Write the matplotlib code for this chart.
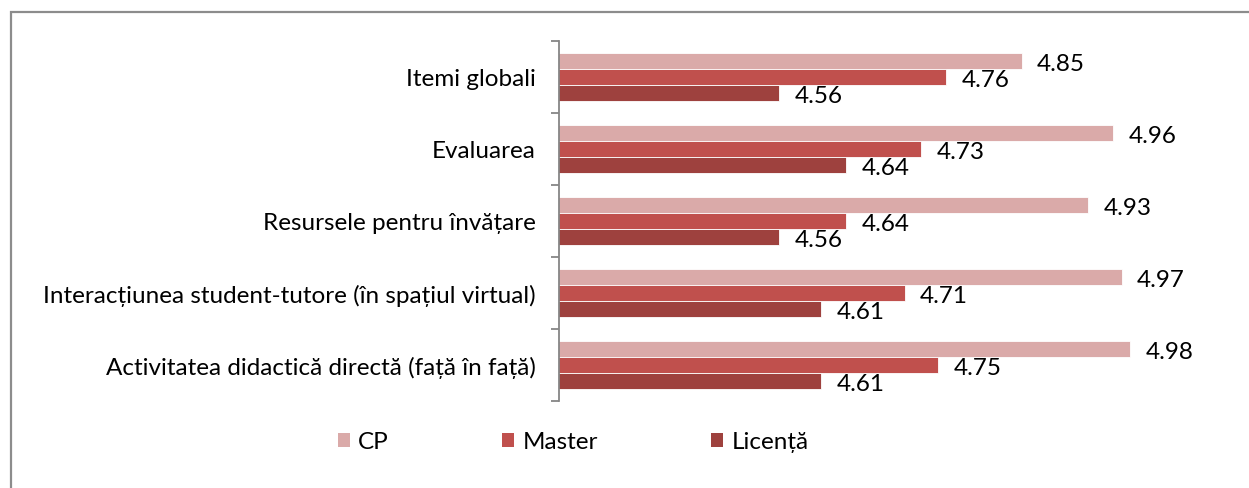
import numpy as np
import matplotlib.pyplot as plt
from matplotlib.patches import Rectangle, Patch

categories = ["Itemi globali",
              "Evaluarea",
              "Resursele pentru învățare",
              "Interacțiunea student-tutore (în spațiul virtual)",
              "Activitatea didactică directă (față în față)"]
series = ["CP", "Master", "Licență"]
cp = [4.85, 4.96, 4.93, 4.97, 4.98]
master = [4.76, 4.73, 4.64, 4.71, 4.75]
licenta = [4.56, 4.64, 4.56, 4.61, 4.61]
colors = ["#DAAAA9", "#C0504D", "#9E413E"]

plt.rcParams['font.family'] = ['Lato', 'DejaVu Sans']
fs = 17.5

fig = plt.figure(figsize=(12.49, 4.89), dpi=100)
W, H = 1249, 489
ax = fig.add_axes([559 / W, 1 - 402 / H, (1227 - 559) / W, (402 - 42) / H])

# outer chart border (only top and left visible)
fig.add_artist(Rectangle((11 / W, -0.5), 2, 1 - 12.5 / H + 0.5, transform=fig.transFigure,
                         fill=False, edgecolor="#8C8C8C", linewidth=1.6))

y = np.arange(len(categories))
bh = 16 / 72
for i, (vals, c) in enumerate(zip([cp, master, licenta], colors)):
    pos = y + (i - 1) * bh
    ax.barh(pos, vals, height=bh, left=0, color=c, edgecolor="white", linewidth=0.6,
            label=series[i])
    for p, v in zip(pos, vals):
        ax.annotate(f"{v:.2f}", (v, p), xytext=(11, -1.5), textcoords="offset points",
                    va="center", ha="left", fontsize=fs, color="black")

ax.set_xlim(4.296, 5.096)
ax.set_ylim(len(categories) - 0.5, -0.5)
ax.set_yticks(y)
ax.set_yticklabels(categories, fontsize=fs)
ax.tick_params(axis="y", which="major", length=0, pad=17)
ax.set_yticks(np.arange(-0.5, len(categories)), minor=True)
ax.tick_params(axis="y", which="minor", length=5.5, width=1.3, color="#868686")
ax.set_xticks([])
for s in ["top", "right", "bottom"]:
    ax.spines[s].set_visible(False)
ax.spines["left"].set_color("#868686")
ax.spines["left"].set_linewidth(1.3)

handles = [Patch(facecolor=c, edgecolor="none") for c in colors]
fig.legend(handles, series, loc="center", bbox_to_anchor=(0.459, 1 - 443 / H), ncol=3,
           frameon=False, fontsize=fs, handlelength=0.5, handleheight=0.5,
           handletextpad=0.35, columnspacing=4.65)

fig.savefig("out.png", dpi=100)
